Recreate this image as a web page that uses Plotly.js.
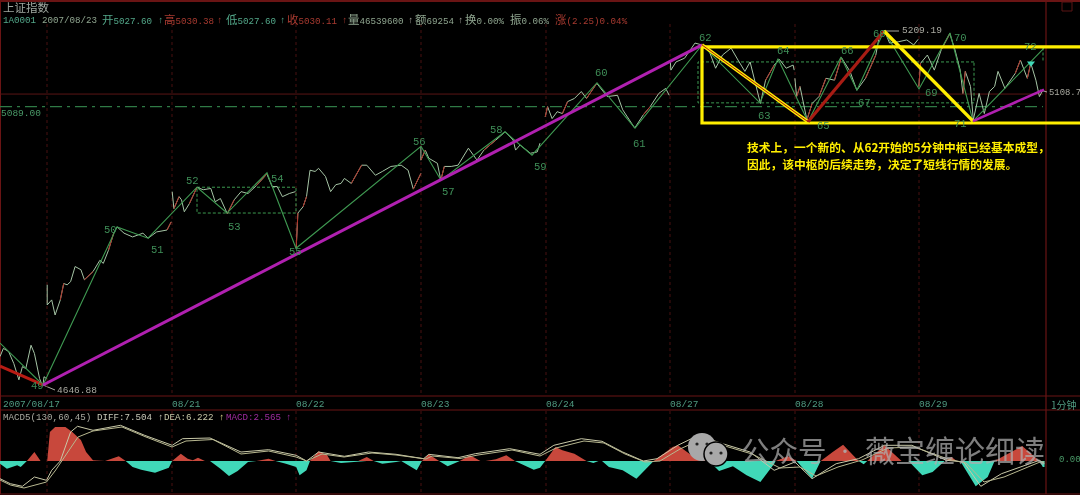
<!DOCTYPE html>
<html><head><meta charset="utf-8">
<script src="https://cdn.plot.ly/plotly-3.0.1.min.js"></script>
<style>html,body{margin:0;padding:0;background:#000;overflow:hidden}#c{width:1080px;height:495px;filter:blur(0.35px)}</style>
</head><body><div id="c"></div>
<script>
// ---- data ----
const dayTicks=[47,172,296,421,546,670,795,919];
const dayLabels=['2007/08/17','08/21','08/22','08/23','08/24','08/27','08/28','08/29'];
const priceX=[0,3.4,8.6,13.8,18.9,22.4,25.8,31,34.4,39.6,41.3,43,44,46.5,null,
47.2,47.2,51.7,55.1,60.3,63.7,67.2,70.6,75.1,80.9,84.4,93,99.9,103.3,108.5,113.7,117.1,124,132.6,142.9,148.1,156.7,167,171.2,null,
172.2,173.9,179.1,181.5,184.3,189.4,197,203.2,210.8,215.2,220.4,227.3,234.2,241.1,248,256.6,266.9,272.1,277.2,282.4,289.3,295.5,null,
296.2,297.9,303.1,306.5,310,315.1,318.6,325.5,330.6,335.8,341,344.4,351.3,361.6,366.8,375.4,382.3,390.9,401.2,408.1,413.3,420.9,null,
420.9,420.9,425.3,428.8,437.4,440.8,444.3,451.2,458,468.4,477,483.9,495.9,505.2,513.1,515.6,520,530.4,537.2,540,null,
545.2,547.6,552.1,557.2,562.4,567.6,574.4,581.3,586.5,596.8,607.2,617.5,622.7,634.7,643.3,650.2,658.8,665.7,669.2,null,
670.2,670.9,676,684.6,695,701.9,708.8,715.6,722.5,731.1,738,744.9,750.1,760.4,765.6,774.2,779.4,786.2,793.1,794.2,null,
794.9,796.6,800,806.9,812.1,819,825.9,834.5,841.4,850,856.8,865.5,875.8,879.2,884.4,889.6,898.2,906.8,913.7,918.2,null,
918.8,920.6,927.4,934.3,941.2,949.8,955,960.2,962.9,965.3,970.5,973.3,979.1,984.3,989.4,994.6,998,1004.9,1015.3,1020.4,1027.3,1030.8,1035.9,1039.4,1042.8];
const priceY=[4692,4705,4700,4681,4655,4676,4673,4710,4697,4657,4650,4647,4660,4657,null,
4806,4774,4782,4758,4782,4808,4806,4811,4835,4830,4814,4827,4845,4840,4861,4888,4898,4888,4882,4888,4880,4890,4893,4906,null,
4954,4927,4946,4941,4922,4935,4961,4957,4959,4938,4943,4919,4941,4954,4951,4964,4982,4962,4962,4946,4951,4954,null,
4864,4920,4930,4946,4988,4986,4991,4978,4954,4965,4967,4975,4967,4996,4996,4980,4986,4994,4996,4988,4958,4983,null,
5025,5004,5020,5007,4999,4972,4994,4994,4996,5023,5004,5020,5036,5049,5036,5020,5028,5015,5017,5031,null,
5073,5089,5070,5081,5078,5097,5102,5113,5102,5126,5105,5107,5084,5055,5076,5089,5110,5118,5107,null,
5163,5147,5160,5166,5190,5187,5179,5150,5171,5182,5163,5145,5160,5094,5131,5155,5164,5150,5155,5147,null,
5134,5105,5121,5068,5094,5105,5134,5131,5167,5145,5115,5134,5171,5200,5210,5190,5192,5195,5187,5196,null,
5121,5158,5171,5147,5179,5205,5179,5147,5110,5145,5121,5068,5110,5078,5113,5121,5145,5118,5142,5163,5134,5158,5131,5105,5115];
const pivotX=[0,43,117,148,197,227,267,296,421,441,505,532,597,635,702,760,778,808,841,857,884,919,950,973,1044];
const pivotY=[4713.5,4646.88,4898,4880,4961,4920,4984,4864,5026,4972,5049,5012,5127,5055,5187,5095,5165,5065,5168,5115,5209.19,5117,5206,5066,5182];
const trendRedX=[0,43], trendRedY=[4677,4646.88];
const trendUpX=[43,702], trendUpY=[4646.88,5187];
const seg1X=[702,808], seg1Y=[5187,5065];
const seg2X=[808,884], seg2Y=[5065,5209.19];
const seg3X=[884,973], seg3Y=[5209.19,5066];
const seg4X=[973,1044], seg4Y=[5066,5116];
const boxX=[1090,702,702,1090], boxY=[5184,5184,5063,5063];
const zs1X=[197,296,296,197,197], zs1Y=[4961,4961,4920,4920,4961];
const zs2X=[974,698,698,974,974], zs2Y=[5160,5160,5095,5095,5160];
const zs3X=[1043,1043], zs3Y=[5183,5160];
const lastClose=5109, refLine=5089;
const macdX=[0,6.9,17.2,20.7,26.9,34.4,40.6,46.5,47.2,49.9,55.1,65.4,72.3,80.9,86.1,93,105,118.8,125.7,132.6,141.2,155,168.8,172.2,180.8,187.7,192.9,198,204.9,210,220.4,229,237.6,248,256.6,268.6,275.5,285.9,296.2,299.6,306.5,310,318.6,327.2,330.6,341,354.7,358.2,366.8,373.7,382.3,396.1,401.2,416.7,421.9,428.8,439.1,447.7,459.8,470.1,480.4,485.6,495.9,506.3,514.9,533.8,540,545.2,555.5,562.4,574.4,586.5,593.4,598.5,602,608.9,622.7,636.4,653.7,672.6,677.8,691.5,705.3,708.8,719.1,732.9,746.6,760.4,774.2,775.6,788,796.6,812.1,820.7,832.7,843.1,858.6,863.7,867.2,884.4,901.6,908.5,922.3,932.6,944.7,951.5,956.7,960.2,975.7,987.7,994.6,1022.2,1039.4,1042.8,1044.5];
const macdV=[-2.7,-7.7,-4.3,-6,0,9,0,0,0,29,34,34,29,21,9,0.7,0,4.7,0,-6,-8.7,-11.7,-6.7,0,7.3,2.3,0.7,3.3,0,0,-7.7,-15,-10,-1,0,2.3,0,-2.7,-6,-14.3,-9.3,0,9.7,5.7,0,-2,-1,0,4,0,-2.7,-1,0,-9.3,0,6.7,0,-5.3,0,5.7,0,0,1.7,5.7,0,-8.7,-6.7,0,14,10.7,7.3,0,-2,0,0,-6,-9.3,-17.7,0,14,15.7,5.7,0.7,0,-10,-5.3,-14.3,-21,-2.7,0,4.7,0,-17.7,0,9,16.3,0,-3.3,0,15.7,0,0,-14.3,-11,0,4,0,0,-25.3,-16,0,15,0,-6,-6];
const diffX=[0,10.3,22.4,34.4,46.5,51.7,60.3,70.6,77.5,93,120.5,144.6,172.2,182.5,210,241,268.6,296.2,306.5,318.6,344.4,368.5,396,423.6,428.8,458,475.3,509.7,540,553.8,581.3,602,622.7,643.3,657,677.8,698.4,722.5,750.1,774.2,794.9,812.1,836.2,858.6,884.4,911.9,946.4,963.6,980.8,1001.5,1039.4,1044.5];
const diffV=[-17.7,-22.7,-25.3,-16,-19.3,-9.3,0,29,34.7,30.7,35.7,25.7,15.7,22.3,23,9,11.3,5.7,0,9,4.7,9,6.7,2.3,6.7,3.3,7.3,12.3,6.7,15.7,22.3,19.7,9,0,2.3,15.7,25.7,17.3,9,-9.3,-1,-17.7,-2.7,2.3,15.7,15.7,0.7,-1,-25.3,-12.7,0.7,-2.7];
const deaX=[0,10.3,24,46.5,55,62,78,93,122,146,172,186,213,241,268.6,296,306.5,322,344,372,396,426,432,460,478,512,540,556,584,604,625,645,660,680,702,725,752,780,800,816,838,862,888,914,948,966,984,1004,1040,1044.5];
const deaV=[-19,-24,-27,-21,-10,0,24,30,34,24,14,20,21.5,7,10,4,0,7,4,8,6,2,5,2.5,6,11,5,13,20,18,7,-1,0,12,22,15,7,-7,-6,-15,-6,1,13,14,2,-2,-21,-16,-1,-1];

// ---- drawing ----
const W=1080,H=495;
const px=x=>x/W, py=y=>1-y/H;
const annotations=[];
function txt(x,y,text,color,size,family,extra){
  annotations.push(Object.assign({xref:'paper',yref:'paper',x:px(x),y:py(y),text:text,showarrow:false,xanchor:'left',yanchor:'middle',borderpad:0,
    font:{color:color,size:size||10,family:family||'"Liberation Mono","Noto Sans CJK SC",monospace'}},extra||{}));
}
const GN='#53a88a',RD='#a83a30',GY='#8fa58f',LT='#a9a9a0';
const big=s=>s.replace(/([\u4e00-\u9fff])/g,'<span style="font-size:11.5px">$1</span>');
txt(2,7,'上证指数','#a0a8a0',11.5,'"Noto Sans CJK SC"');
[[2,'1A0001',GN],[41,'2007/08/23',GY],[101,'开5027.60',GN],[157,'↑',GN],[163,'高5030.38',RD],[216,'↑',RD],[225,'低5027.60',GN],[279,'↑',GN],[286,'收5030.11',RD],[341,'↑',RD],[347,'量46539600',GY],[407,'↑',LT],[414,'额69254',GY],[457,'↑',LT],[464,'换0.00%',GY],[509,'振0.06%',GY],[554,'涨(2.25)0.04%',RD]]
 .forEach(a=>txt(a[0],20,big(a[1]),a[2],9.2));
txt(0,113,'5089.00','#4a9a68',9.5);
txt(901,31,'5209.19',LT,9.5);
txt(56,390,'4646.88',LT,9.5);
txt(1048,93,'5108.7',LT,8.9);
txt(2,404,dayLabels[0],'#4f9a80',9.5);
txt(1050,404,'1分钟','#4f9a80',10,'"Noto Sans CJK SC"');
[[2,'MACD5(130,60,45)',LT],[96,'DIFF:7.504','#c8c8b8'],[157,'↑','#d8d8c8'],[163,'DEA:6.222','#c8c8a8'],[218,'↑','#e0e090'],[225,'MACD:2.565','#a02ca0'],[285,'↑','#a02ca0']]
 .forEach(a=>txt(a[0],417,a[1],a[2],9.2));
txt(1058,460,'0.00','#4a9a68',9);
[[30,386,'49'],[103,230,'50'],[150,250,'51'],[185,181,'52'],[227,227,'53'],[270,179,'54'],[288,252,'55'],[412,142,'56'],[441,192,'57'],[489,130,'58'],[533,167,'59'],[594,73,'60'],[632,144,'61'],[698,38,'62'],[757,116,'63'],[776,51,'64'],[816,126,'65'],[840,51,'66'],[857,103,'67'],[872,34,'68'],[924,93,'69'],[953,38,'70'],[953,124,'71'],[1023,47,'72']]
 .forEach(a=>txt(a[0],a[1],a[2],'#3f8f58',10.5));
const Y='"Noto Sans CJK SC"';
txt(746,146,'<b>技术上，一个新的、从62开始的5分钟中枢已经基本成型，</b>','#ffee00',11.75,Y);
txt(746,163,'<b>因此，该中枢的后续走势，决定了短线行情的发展。</b>','#ffee00',11.75,Y);
txt(740,449,'公众号','rgba(175,175,175,0.72)',28.5,Y);
txt(836,450,'•','rgba(175,175,175,0.85)',16,Y);
txt(864,449,'薇宝缠论细读','rgba(175,175,175,0.72)',30,Y);

const frame='#6a1414';
const L=(x0,y0,x1,y1,c,w,d)=>({type:'line',xref:'paper',yref:'paper',x0:px(x0),y0:py(y0),x1:px(x1),y1:py(y1),line:{color:c,width:w||1,dash:d||'solid'},layer:'below'});
const C=(cx,cy,r,fill,border)=>({type:'circle',xref:'paper',yref:'paper',x0:px(cx-r),x1:px(cx+r),y0:py(cy+r),y1:py(cy-r),fillcolor:fill,line:{color:border||fill,width:border?1.5:0},layer:'above'});
const shapes=[L(0,1,W,1,frame,2),L(0,396,W,396,frame,1.2),L(0,410,W,410,frame,1.2),L(0,494,W,494,frame,1),L(1046,0,1046,494,frame,1.2),L(0.5,0,0.5,494,frame,1),
 {type:'rect',xref:'paper',yref:'paper',x0:px(1062),x1:px(1072),y0:py(11),y1:py(2),line:{color:'#5a1414',width:1}},
 L(884,31,899,31,LT,1),L(43,385,55,390,LT,1),L(1040,90,1047,92,LT,1)];
dayTicks.forEach(d=>{shapes.push(L(d,24,d,396,'#481010',1,'dot'));shapes.push(L(d,411,d,494,'#481010',1,'dot'));});
shapes.push(C(702,447,14,'#a8a8a8'),C(716,454,12,'#a8a8a8','#000'));
[[697,444],[707,444],[711,453],[721,453]].forEach(e=>shapes.push(C(e[0],e[1],1.6,'#222')));

// rising stretches of the price line are over-drawn in red
const upX=[],upY=[];
for(let i=1;i<priceX.length;i++){
  if(priceY[i]!=null&&priceY[i-1]!=null&&priceY[i]-priceY[i-1]>=12&&priceX[i]-priceX[i-1]>1&&i%2===0){upX.push(priceX[i-1],priceX[i],null);upY.push(priceY[i-1],priceY[i],null);}
}
const line=(x,y,c,w,extra)=>Object.assign({type:'scatter',mode:'lines',x:x,y:y,line:{color:c,width:w},hoverinfo:'skip'},extra||{});
const traces=[
 line(macdX,macdV.map(v=>Math.max(v,0)),'#c8483c',0,{yaxis:'y2',fill:'tozeroy',fillcolor:'#c8483c'}),
 line(macdX,macdV.map(v=>Math.min(v,0)),'#40d8b8',0,{yaxis:'y2',fill:'tozeroy',fillcolor:'#40d8b8'}),
 line(diffX,diffV,'#c9c9a8',1,{yaxis:'y2'}),
 line(deaX,deaV,'#b8b890',1,{yaxis:'y2'}),
 line([0,1043],[lastClose,lastClose],'#5a1414',1),
 line([0,1043],[refLine,refLine],'#2f7a45',1,{line:{color:'#2f7a45',width:1.2,dash:'12px,5px,3px,5px'}}),
 line(zs1X,zs1Y,'#3c9a50',1,{line:{color:'#3c9a50',width:1,dash:'3px,2px'}}),
 line(zs2X,zs2Y,'#3c9a50',1,{line:{color:'#3c9a50',width:1,dash:'3px,2px'}}),
 line(zs3X,zs3Y,'#3c9a50',1,{line:{color:'#3c9a50',width:1,dash:'3px,2px'}}),
 line(priceX,priceY,'#a5c4a5',1),
 line(upX,upY,'#b03228',1),
 line(pivotX,pivotY,'#3f9a52',1.1),
 line(boxX,boxY,'#ffee00',3.2),
 line(trendRedX,trendRedY,'#b81c14',3),
 line(trendUpX,trendUpY,'#b020b0',3),
 line(seg1X,seg1Y,'#ffee00',3.4),
 line(seg1X,seg1Y,'#a81c14',1),
 line(seg2X,seg2Y,'#a81c14',3.2),
 line(seg3X,seg3Y,'#ffee00',3.4),
 line(seg4X,seg4Y,'#b020b0',2.6),
 {type:'scatter',mode:'markers',x:[1031],y:[5158],marker:{symbol:'triangle-down',size:7,color:'#40d8b8'},hoverinfo:'skip'}
];
const layout={width:W,height:H,margin:{l:0,r:0,t:0,b:0,pad:0},paper_bgcolor:'#000',plot_bgcolor:'#000',showlegend:false,
 xaxis:{domain:[0,1],range:[0,W],anchor:'y',showgrid:false,zeroline:false,showline:false,ticks:'',tickmode:'array',
   tickvals:dayTicks.slice(1),ticktext:dayLabels.slice(1),ticklabelposition:'outside right',
   tickfont:{color:'#4f9a80',size:9.5,family:'"Liberation Mono",monospace'}},
 yaxis:{domain:[0.2,1],range:[4629.35,5258.4],showgrid:false,zeroline:false,showticklabels:false,ticks:''},
 yaxis2:{domain:[0,84/495],range:[-34,50],anchor:'x',showgrid:false,zeroline:false,showticklabels:false,ticks:''},
 annotations:annotations,shapes:shapes};
Plotly.newPlot('c',traces,layout,{staticPlot:true,displayModeBar:false});
</script></body></html>
